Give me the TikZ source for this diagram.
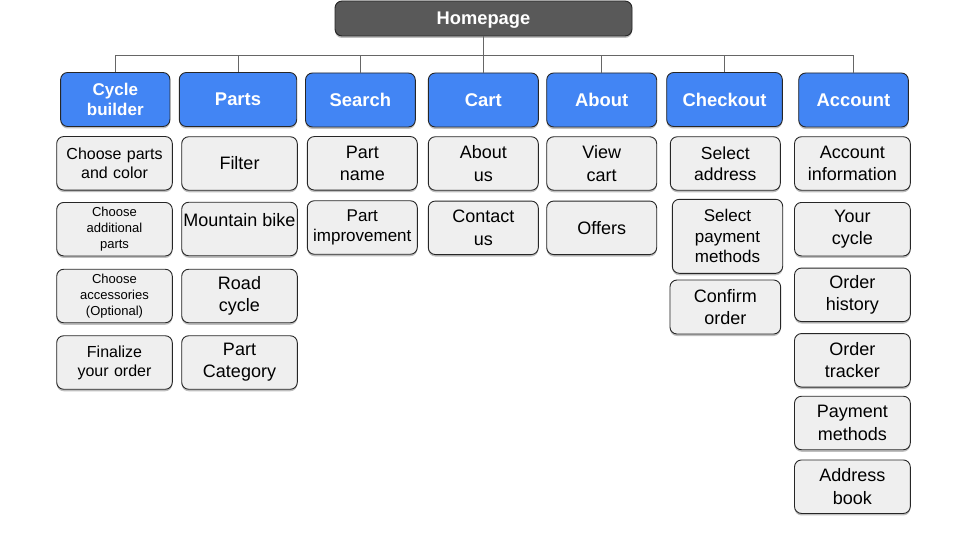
\documentclass[tikz,border=0pt]{standalone}
\usepackage{fontspec}
\setmainfont{Liberation Sans}
\usetikzlibrary{shadows}
\definecolor{gblue}{HTML}{4285F4}
\definecolor{hgray}{HTML}{595959}
\definecolor{cfill}{HTML}{EFEFEF}
\definecolor{bord}{HTML}{262626}
\definecolor{lgray}{HTML}{666666}
\tikzset{
  base/.style={rectangle, rounded corners=7pt, draw=bord, line width=0.9pt, inner sep=0pt, align=center,
    drop shadow={shadow xshift=0pt, shadow yshift=-2pt, opacity=0.25, fill=black}},
  homebox/.style={base, fill=hgray, text=white, font=\bfseries\fontsize{18.3}{22}\selectfont, text width=297pt, minimum height=35pt},
  topbox/.style={base, fill=gblue, text=white, font=\bfseries\fontsize{18.4}{22}\selectfont, minimum height=54pt},
  childbox/.style={base, fill=cfill, text=black, font=\fontsize{18}{22.3}\selectfont, minimum height=53.5pt},
  ctext/.style={inner sep=0pt, align=center, text=black, font=\fontsize{18}{22.3}\selectfont},
  conn/.style={draw=lgray, line width=0.9pt}
}
\begin{document}
\begin{tikzpicture}[x=1pt, y=-1pt]
\useasboundingbox (0,0) rectangle (960,540);
% root
\node[homebox] (home) at (483.5,18.5) {\raisebox{0pt}[\height][0pt]{Homepage}};
% top level
\node[topbox, text width=109.3pt, font=\bfseries\fontsize{17}{20}\selectfont] (cb) at (115.3,99.5) {Cycle\\builder};
\node[topbox, text width=117.4pt] (parts) at (238,99.5) {Parts};
\node[topbox, text width=109.8pt] (search) at (360.4,100) {Search};
\node[topbox, text width=110pt] (cart) at (483.3,100) {Cart};
\node[topbox, text width=110pt] (about) at (601.7,100) {About};
\node[topbox, text width=115.6pt] (checkout) at (724.5,99.5) {Checkout};
\node[topbox, text width=109.6pt] (account) at (853.5,100) {Account};
% connectors
\coordinate (bus) at (483.5,55);
\draw[conn] (home.south) -- (bus);
\foreach \n in {cb,parts,search,cart,about,checkout,account}
  \draw[conn] (bus) -| (\n.north);
% column 1
\node[childbox, text width=115.6pt, font=\fontsize{16}{19}\selectfont] (c1a) at (114.5,163.3) {Choose parts\\and color};
\node[childbox, text width=115.6pt, font=\fontsize{13}{16}\selectfont] (c1b) at (114.5,229.2) {Choose\\additional\\parts};
\node[childbox, text width=115.6pt, font=\fontsize{13}{16}\selectfont] (c1c) at (114.5,296) {Choose\\accessories\\(Optional)};
\node[childbox, text width=115.6pt, font=\fontsize{16}{19}\selectfont] (c1d) at (114.5,362.5) {Finalize\\your order};
% column 2
\node[childbox, text width=115.6pt] (c2a) at (239.5,163.5) {Filter};
\node[childbox, text width=115.6pt] (c2b) at (239.5,229) {};
\node[ctext] (c2bt) at ([yshift=9pt]c2b.center) {Mountain bike};
\node[childbox, text width=115.6pt] (c2c) at (239.5,296) {Road\\cycle};
\node[childbox, text width=115.6pt] (c2d) at (239.5,362.5) {Part\\Category};
% column 3
\node[childbox, text width=110pt] (c3a) at (362.3,163.3) {Part\\name};
\node[childbox, text width=110pt, font=\fontsize{17}{20.5}\selectfont] (c3b) at (362.3,227.5) {Part\\improvement};
% column 4
\node[childbox, text width=110pt] (c4a) at (483.3,163.5) {About\\us};
\node[childbox, text width=110pt] (c4b) at (483.3,227.8) {Contact\\us};
% column 5
\node[childbox, text width=110pt] (c5a) at (601.7,163.5) {View\\cart};
\node[childbox, text width=110pt] (c5b) at (601.7,227.8) {Offers};
% column 6
\node[childbox, text width=110pt, font=\fontsize{17.5}{21.5}\selectfont] (c6a) at (725.3,163.5) {Select\\address};
\node[childbox, text width=110.4pt, minimum height=74pt, font=\fontsize{17}{20.5}\selectfont] (c6b) at (727.5,236.3) {Select\\payment\\methods};
\node[childbox, text width=110.7pt, minimum height=54pt] (c6c) at (725.3,307) {Confirm\\order};
% column 7
\node[childbox, text width=115.8pt] (c7a) at (852.4,163.5) {Account\\information};
\node[childbox, text width=115.8pt] (c7b) at (852.4,229.2) {Your\\cycle};
\node[childbox, text width=115.8pt] (c7c) at (852.4,294.8) {Order\\history};
\node[childbox, text width=115.8pt] (c7d) at (852.4,360.3) {Order\\tracker};
\node[childbox, text width=115.8pt] (c7e) at (852.4,423) {Payment\\methods};
\node[childbox, text width=115.8pt] (c7f) at (852.4,486.7) {Address\\book};
\end{tikzpicture}
\end{document}
